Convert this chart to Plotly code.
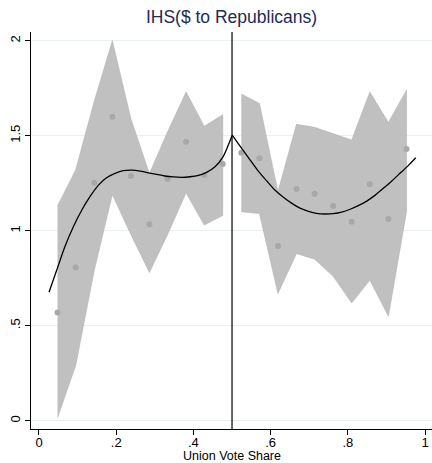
import plotly.graph_objects as go

# ---- data ----
bins_left = [0.048, 0.095, 0.143, 0.190, 0.238, 0.286, 0.333, 0.381, 0.428, 0.476]
means_left = [0.57, 0.807, 1.253, 1.60, 1.288, 1.034, 1.272, 1.468, 1.293, 1.351]
upper_left = [1.13, 1.32, 1.68, 2.00, 1.59, 1.30, 1.52, 1.73, 1.55, 1.61]
lower_left = [0.016, 0.29, 0.79, 1.19, 0.98, 0.78, 0.98, 1.20, 1.03, 1.08]

bins_right = [0.524, 0.571, 0.619, 0.667, 0.714, 0.762, 0.810, 0.857, 0.905, 0.952]
means_right = [1.41, 1.381, 0.92, 1.219, 1.195, 1.13, 1.047, 1.244, 1.062, 1.43]
upper_right = [1.72, 1.67, 1.205, 1.56, 1.544, 1.51, 1.477, 1.73, 1.57, 1.74]
lower_right = [1.10, 1.09, 0.67, 0.88, 0.85, 0.76, 0.62, 0.74, 0.55, 1.10]

fit_left_x = [0.026, 0.046, 0.067, 0.089, 0.111, 0.132, 0.154, 0.175, 0.197, 0.218,
              0.240, 0.262, 0.283, 0.305, 0.326, 0.348, 0.370, 0.391, 0.413, 0.434,
              0.456, 0.477, 0.500]
fit_left_y = [0.676, 0.793, 0.916, 1.021, 1.109, 1.179, 1.240, 1.279, 1.302, 1.316,
              1.319, 1.314, 1.305, 1.297, 1.288, 1.283, 1.281, 1.284, 1.291, 1.307,
              1.337, 1.390, 1.500]
fit_right_x = [0.500, 0.525, 0.547, 0.568, 0.590, 0.611, 0.633, 0.655, 0.676, 0.698,
               0.719, 0.741, 0.762, 0.784, 0.806, 0.827, 0.849, 0.870, 0.892, 0.914,
               0.935, 0.957, 0.976]
fit_right_y = [1.504, 1.434, 1.372, 1.314, 1.262, 1.214, 1.176, 1.144, 1.119, 1.102,
               1.091, 1.088, 1.090, 1.098, 1.113, 1.132, 1.156, 1.186, 1.223, 1.262,
               1.302, 1.344, 1.384]

cutoff = 0.5
x_ticks = [0, 0.2, 0.4, 0.6, 0.8, 1]
x_tick_labels = ["0", ".2", ".4", ".6", ".8", "1"]
y_ticks = [0, 0.5, 1, 1.5, 2]
y_tick_labels = ["0", ".5", "1", "1.5", "2"]

BAND = "rgb(192,192,192)"
BAND_EDGE = "rgb(178,178,178)"
DOT = "rgb(168,168,168)"

W, H = 432, 463
ML, MR, MT, MB = 31, 0, 32, 34
PLOT_H = H - MT - MB

fig = go.Figure()

for bx, up, lo in [(bins_left, upper_left, lower_left), (bins_right, upper_right, lower_right)]:
    fig.add_trace(go.Scatter(
        x=bx + bx[::-1], y=up + lo[::-1], fill="toself", mode="lines",
        fillcolor=BAND, line=dict(color=BAND_EDGE, width=0.6),
        hoverinfo="skip", showlegend=False))

for bx, m in [(bins_left, means_left), (bins_right, means_right)]:
    fig.add_trace(go.Scatter(x=bx, y=m, mode="markers",
                             marker=dict(color=DOT, size=6), showlegend=False))

for fx, fy in [(fit_left_x, fit_left_y), (fit_right_x, fit_right_y)]:
    fig.add_trace(go.Scatter(x=fx, y=fy, mode="lines",
                             line=dict(color="black", width=1.3, shape="spline", smoothing=0.6),
                             showlegend=False))

fig.add_shape(type="line", x0=cutoff, x1=cutoff, xref="x", y0=0, y1=1, yref="paper",
              line=dict(color="black", width=1.2))

fig.add_annotation(text="Union Vote Share", xref="paper", yref="paper",
                   x=0.5, y=-MB / PLOT_H, xanchor="center", yanchor="bottom",
                   showarrow=False, font=dict(size=12.5, color="black"), yshift=-2)

fig.update_layout(
    width=W, height=H,
    margin=dict(l=ML, r=MR, t=MT, b=MB),
    paper_bgcolor="white", plot_bgcolor="white",
    font=dict(family="Liberation Sans, Arial, sans-serif", color="black"),
    title=dict(text="IHS($ to Republicans)", x=(ML + W) / 2 / W, xanchor="center",
               y=1 - 17 / H, yanchor="middle",
               font=dict(size=17.5, color="#1c2b57")),
    xaxis=dict(range=[-0.0207, 1.018], tickvals=x_ticks, ticktext=x_tick_labels,
               showgrid=False, zeroline=False, showline=True, linecolor="black", linewidth=1,
               ticks="outside", ticklen=5, tickcolor="black", tickfont=dict(size=13),
               ticklabelstandoff=-4),
    yaxis=dict(range=[-0.0437, 2.046], tickvals=y_ticks, ticktext=y_tick_labels,
               showgrid=True, gridcolor="#e8f0f1", gridwidth=1, zeroline=False,
               showline=True, linecolor="black", linewidth=1,
               ticks="outside", ticklen=5, tickcolor="black", tickangle=-90,
               tickfont=dict(size=13)),
)

fig.write_html("out.html")
